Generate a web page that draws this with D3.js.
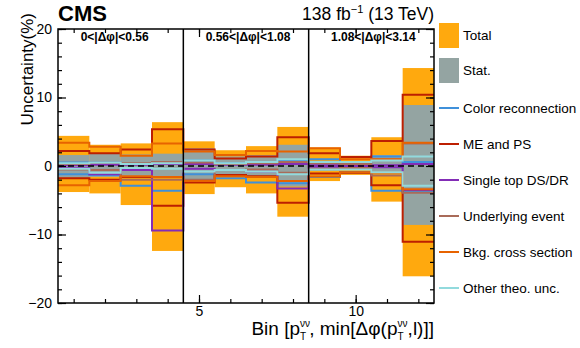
<!DOCTYPE html>
<html><head><meta charset="utf-8">
<script src="https://cdn.jsdelivr.net/npm/d3@7"></script>
<style>body{margin:0;background:#fff}svg{font-family:"Liberation Sans",Arial,sans-serif}</style>
</head><body><svg id="c" width="580" height="348"></svg>
<script>
const bins = [1,2,3,4,5,6,7,8,9,10,11,12];
const regionLabels = ["0<|Δφ|<0.56","0.56<|Δφ|<1.08","1.08<|Δφ|<3.14"];
const regionEdges = [4.5, 8.5];
const totalUp   = [4.4, 3.1, 3.3, 6.4, 3.6, 2.3, 2.9, 5.7, 2.7, 1.5, 4.2, 14.3];
const totalDown = [-3.8,-4.0,-5.7,-12.4,-4.1,-3.1,-4.0,-7.4,-2.2,-1.3,-5.2,-16.1];
const statUp    = [1.6, 1.8, 1.7, 1.8, 2.6, 1.4, 1.6, 3.1, 0.7, 0.4, 1.6, 8.9];
const statDown  = [-1.7,-1.6,-1.5,-1.5,-2.0,-1.4,-1.5,-3.0,-0.7,-0.4,-1.0,-8.6];
const crUp   = [0.5, 0.6, 0.3, 0.4, 0.8, 0.4, 0.6, 0.8, 1.0, 0.4, 1.4, 0.6];
const crDown = [-1.2,-1.3,-2.9,-3.6,-1.2,-1.8,-2.4,-2.5,-1.6,-0.9,-3.6,-3.8];
const mepsUp   = [2.2, 1.85, 2.4, 5.35, 2.4, 1.1, 1.4, 4.2, 1.85, 1.3, 3.65, 10.4];
const mepsDown = [-1.8,-2.0,-1.6,-5.8,-2.4,-1.3,-1.5,-5.35,-1.1,-1.0,-2.8,-11.05];
const stUp   = [0.1, 0.2, 0.2, 0.3, 0.3, 0.2, 0.2, 0.3, 0.1, 0.1, 0.1, 0.3];
const stDown = [-0.3,-1.2,-0.6,-9.4,-0.4,-0.6,-0.8,-3.3,-0.1,-0.1,-0.2,-3.5];
const ueUp   = [0.3, 0.5, 0.4, 0.6, 0.5, 0.3, 0.4, 0.6, 0.4, 0.3, 1.0, 3.3];
const ueDown = [-0.5,-0.6,-2.0,-2.0,-2.0,-0.6,-0.5,-1.0,-0.4,-0.3,-1.4,-3.9];
const bkgUp   = [3.4, 2.8, 1.5, 3.3, 2.1, 1.6, 2.2, 2.1, 2.6, 1.0, 1.0, 3.4];
const bkgDown = [-2.8,-2.2,-1.5,-1.6,-2.2,-1.5,-1.6,-2.2,-1.55,-0.9,-1.0,-3.4];
const othUp   = [0.4, 0.5, 0.3, 0.4, 0.8, 0.4, 0.6, 1.0, 0.6, 0.6, 0.8, 1.4];
const othDown = [-0.4,-1.0,-0.3,-0.4,-0.8,-0.6,-0.8,-1.2,-0.5,-0.5,-0.9,-2.9];
const sourceNames = ["Color reconnection","ME and PS","Single top DS/DR","Underlying event","Bkg. cross section","Other theo. unc."];
const sourceColors = ["#3f90da","#bd1f01","#832db6","#a96b59","#e76300","#92dadd"];
const sourceUp = [crUp, mepsUp, stUp, ueUp, bkgUp, othUp];
const sourceDown = [crDown, mepsDown, stDown, ueDown, bkgDown, othDown];
const yMajor = [-20,-10,0,10,20];
const xMajor = [5,10];

const svg = d3.select("#c");
const L=58,R=434,T=29,B=303;
const x = d3.scaleLinear().domain([0.5,12.5]).range([L,R]);
const y = d3.scaleLinear().domain([-20,20]).range([B,T]);
const g = svg.append("g");

g.selectAll("rect.tot").data(bins).join("rect").attr("class","tot")
  .attr("x",d=>x(d-0.5)).attr("width",d=>x(d+0.5)-x(d-0.5))
  .attr("y",(d,i)=>y(totalUp[i])).attr("height",(d,i)=>y(totalDown[i])-y(totalUp[i]))
  .attr("fill","#ffa90e");
g.selectAll("rect.stat").data(bins).join("rect").attr("class","stat")
  .attr("x",d=>x(d-0.5)).attr("width",d=>x(d+0.5)-x(d-0.5))
  .attr("y",(d,i)=>y(statUp[i])).attr("height",(d,i)=>y(statDown[i])-y(statUp[i]))
  .attr("fill","#94a4a2");

const step = d3.line().x(d=>x(d[0])).y(d=>y(d[1])).curve(d3.curveStepAfter);
function pts(v){ const p=v.map((val,i)=>[bins[i]-0.5,val]); p.push([bins[bins.length-1]+0.5,v[v.length-1]]); return p; }
sourceNames.forEach((n,k)=>{
  [sourceUp[k],sourceDown[k]].forEach(v=>{
    g.append("path").attr("d",step(pts(v))).attr("fill","none")
      .attr("stroke",sourceColors[k]).attr("stroke-width",2);
  });
});

g.append("line").attr("x1",L).attr("x2",R).attr("y1",y(0)).attr("y2",y(0))
  .attr("stroke","#000").attr("stroke-width",1.3).attr("stroke-dasharray","6,4");

regionEdges.forEach(e=>{
  g.append("line").attr("x1",x(e)).attr("x2",x(e)).attr("y1",T).attr("y2",B)
    .attr("stroke","#000").attr("stroke-width",1.5);
});

const yMinor = d3.range(-20,21,2);
const xMinor = d3.range(1,13,1);
svg.append("g").attr("transform",`translate(${L},0)`)
  .call(d3.axisLeft(y).tickValues(yMinor).tickSize(-4).tickFormat(""));
svg.append("g").attr("transform",`translate(${L},0)`)
  .call(d3.axisLeft(y).tickValues(yMajor).tickSize(-8).tickPadding(6).tickFormat(d=>d<0?"−"+Math.abs(d):d));
svg.append("g").attr("transform",`translate(${R},0)`)
  .call(d3.axisRight(y).tickValues(yMinor).tickSize(-4).tickFormat(""));
svg.append("g").attr("transform",`translate(${R},0)`)
  .call(d3.axisRight(y).tickValues(yMajor).tickSize(-8).tickFormat(""));
svg.append("g").attr("transform",`translate(0,${B})`)
  .call(d3.axisBottom(x).tickValues(xMinor).tickSize(-4).tickFormat(""));
svg.append("g").attr("transform",`translate(0,${B})`)
  .call(d3.axisBottom(x).tickValues(xMajor).tickSize(-8).tickPadding(3).tickFormat(d3.format("d")));
svg.append("g").attr("transform",`translate(0,${T})`)
  .call(d3.axisTop(x).tickValues(xMinor).tickSize(-4).tickFormat(""));
svg.append("g").attr("transform",`translate(0,${T})`)
  .call(d3.axisTop(x).tickValues(xMajor).tickSize(-8).tickFormat(""));
svg.selectAll(".domain").remove();
svg.selectAll(".tick line").attr("stroke","#000").attr("stroke-width",1.2);
svg.selectAll(".tick text").attr("font-size",14).attr("fill","#000").attr("font-family","Liberation Sans, Arial, sans-serif");
svg.append("rect").attr("x",L).attr("y",T).attr("width",R-L).attr("height",B-T)
  .attr("fill","none").attr("stroke","#000").attr("stroke-width",1.5);

regionLabels.forEach((t,i)=>{
  const c = (x(regionEdges[i-1]||0.5) + x(regionEdges[i]||12.5))/2;
  svg.append("text").attr("x",c+(i===0?-6:2)).attr("y",41).attr("text-anchor","middle")
    .attr("font-size",12).attr("font-weight","bold").text(t);
});

svg.append("text").attr("x",L).attr("y",21).attr("font-size",22).attr("font-weight","bold").text("CMS");
const lum = svg.append("text").attr("x",R).attr("y",20).attr("text-anchor","end").attr("font-size",17.5);
lum.append("tspan").text("138 fb");
lum.append("tspan").attr("dy",-7).attr("font-size",11).text("−1");
lum.append("tspan").attr("dy",7).text(" (13 TeV)");

svg.append("text").attr("transform","translate(33,13) rotate(-90)").attr("text-anchor","end")
  .attr("font-size",17).text("Uncertainty(%)");

const xt = svg.append("text").attr("x",R).attr("y",335).attr("text-anchor","end").attr("font-size",19);
xt.append("tspan").text("Bin [p");
xt.append("tspan").attr("dy",-8).attr("font-size",10).text("νν");
xt.append("tspan").attr("dx",-10).attr("dy",13).attr("font-size",10).text("T");
xt.append("tspan").attr("dx",3).attr("dy",-5).text(", min[Δφ(p");
xt.append("tspan").attr("dy",-8).attr("font-size",10).text("νν");
xt.append("tspan").attr("dx",-10).attr("dy",13).attr("font-size",10).text("T");
xt.append("tspan").attr("dx",4).attr("dy",-5).text(",l)]]");

const lg = svg.append("g");
const boxes = [["Total","#ffa90e",23],["Stat.","#94a4a2",58]];
boxes.forEach(b=>{
  lg.append("rect").attr("x",439).attr("y",b[2]).attr("width",20).attr("height",25).attr("fill",b[1]);
  lg.append("text").attr("x",463).attr("y",b[2]+17).attr("font-size",13.5).text(b[0]);
});
sourceNames.forEach((n,k)=>{
  const yy = 108 + k*36;
  lg.append("line").attr("x1",439).attr("x2",459).attr("y1",yy).attr("y2",yy)
    .attr("stroke",sourceColors[k]).attr("stroke-width",2);
  lg.append("text").attr("x",463).attr("y",yy+5).attr("font-size",13.5).text(n);
});
</script></body></html>
